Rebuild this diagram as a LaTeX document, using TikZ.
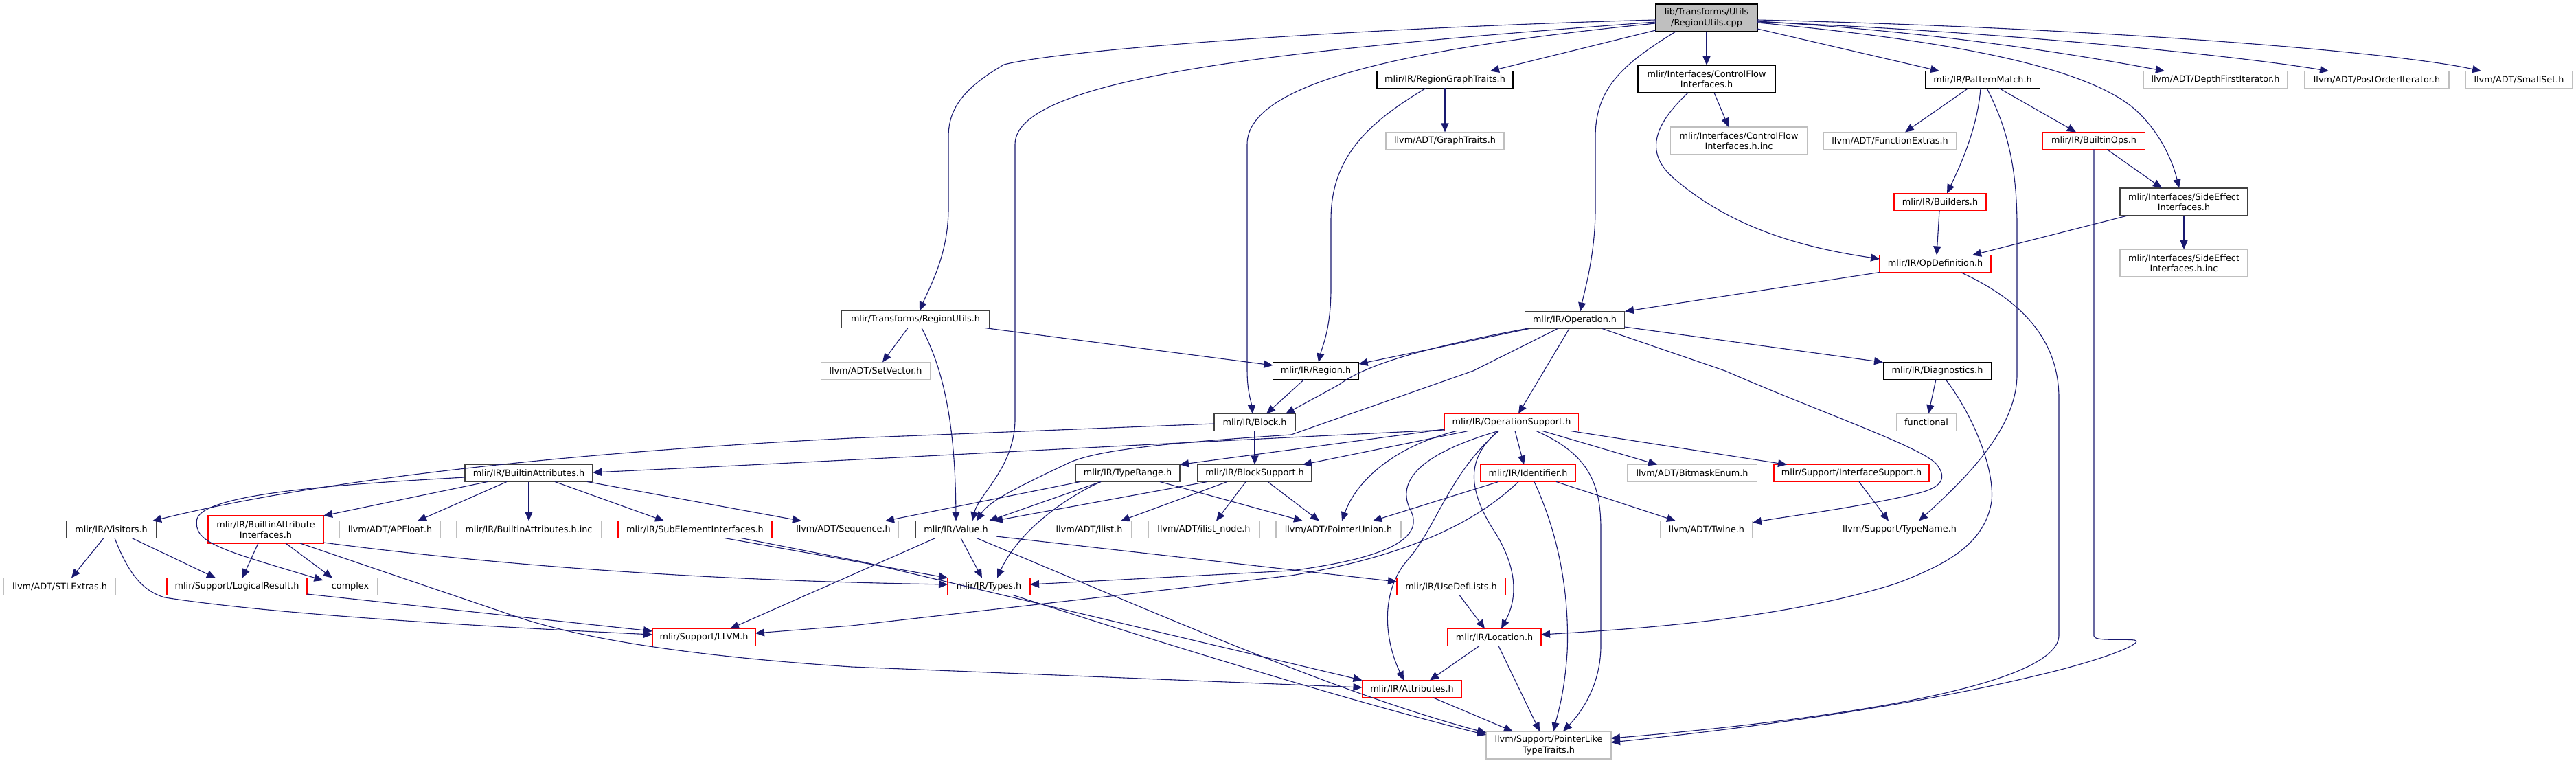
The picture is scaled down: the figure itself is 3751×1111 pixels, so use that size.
\documentclass[tikz,border=0pt]{standalone}
\usepackage{fontspec}
\setmainfont{DejaVu Sans}
\usetikzlibrary{arrows.meta,calc}
\definecolor{edgec}{HTML}{191970}
\definecolor{gryc}{HTML}{BFBFBF}
\definecolor{dkc}{HTML}{404040}
\tikzset{
  nd/.style={rectangle, inner sep=0pt, align=center, font=\fontsize{6.4pt}{7.7pt}\selectfont, minimum height=12.5pt, line width=0.6pt, fill=white},
  tl/.style={minimum height=20pt},
  bk/.style={nd, draw=black},
  dk/.style={nd, draw=dkc},
  gy/.style={nd, draw=gryc},
  rd/.style={nd, draw=red},
  ed/.style={draw=edgec, line width=0.55pt, -{Triangle[length=6.5pt,width=5.5pt]}},
}
\begin{document}
\begin{tikzpicture}[x=0.5pt,y=-0.5pt]
\useasboundingbox (0,0) rectangle (3751,1111);
% nodes
\node[bk, tl, fill=gryc, minimum width=74pt] (R) at (2485,26) {lib/Transforms/Utils\\/RegionUtils.cpp};
\node[dk, minimum width=107.5pt] (TRU) at (1333,465) {mlir/Transforms/RegionUtils.h};
\node[gy, minimum width=79.5pt] (SETV) at (1275,540) {llvm/ADT/SetVector.h};
\node[bk, minimum width=62.5pt] (REG) at (1916,540) {mlir/IR/Region.h};
\node[bk, minimum width=99pt] (RGT) at (2104,116) {mlir/IR/RegionGraphTraits.h};
\node[gy, minimum width=86pt] (GT) at (2104,205) {llvm/ADT/GraphTraits.h};
\node[bk, tl, minimum width=100pt] (CFI) at (2485,115) {mlir/Interfaces/ControlFlow\\Interfaces.h};
\node[gy, tl, minimum width=99.5pt] (CFIinc) at (2532,205) {mlir/Interfaces/ControlFlow\\Interfaces.h.inc};
\node[dk, minimum width=72.5pt] (OP) at (2293,466) {mlir/IR/Operation.h};
\node[bk, minimum width=83.5pt] (PM) at (2887,116) {mlir/IR/PatternMatch.h};
\node[gy, minimum width=96.5pt] (FE) at (2752,205) {llvm/ADT/FunctionExtras.h};
\node[rd, minimum width=74.5pt] (BOPS) at (3049,205) {mlir/IR/BuiltinOps.h};
\node[rd, minimum width=67pt] (BLD) at (2825,294) {mlir/IR/Builders.h};
\node[rd, minimum width=81pt] (OPDEF) at (2818,384) {mlir/IR/OpDefinition.h};
\node[dk, tl, minimum width=93pt] (SEI) at (3180,294) {mlir/Interfaces/SideEffect\\Interfaces.h};
\node[gy, tl, minimum width=93pt] (SEIinc) at (3180,383) {mlir/Interfaces/SideEffect\\Interfaces.h.inc};
\node[bk, minimum width=78.5pt] (DIAG) at (2821,540) {mlir/IR/Diagnostics.h};
\node[gy, minimum width=105pt] (DFI) at (3226,116) {llvm/ADT/DepthFirstIterator.h};
\node[gy, minimum width=105pt] (POI) at (3461,116) {llvm/ADT/PostOrderIterator.h};
\node[gy, minimum width=78pt] (SSET) at (3668,116) {llvm/ADT/SmallSet.h};
\node[dk, minimum width=65.5pt] (VIS) at (162,771) {mlir/IR/Visitors.h};
\node[rd, tl, minimum width=84pt] (BAI) at (387,771) {mlir/IR/BuiltinAttribute\\Interfaces.h};
\node[gy, minimum width=73.5pt] (APF) at (568,771) {llvm/ADT/APFloat.h};
\node[gy, minimum width=81.5pt] (STLE) at (87,854) {llvm/ADT/STLExtras.h};
\node[rd, minimum width=102pt] (LR) at (345,854) {mlir/Support/LogicalResult.h};
\node[gy, minimum width=39.5pt] (CPLX) at (510,854) {complex};
\node[dk, minimum width=93pt] (BA) at (770,689) {mlir/IR/BuiltinAttributes.h};
\node[gy, minimum width=105.5pt] (BAinc) at (770,771) {mlir/IR/BuiltinAttributes.h.inc};
\node[rd, minimum width=112pt] (SEL) at (1012,771) {mlir/IR/SubElementInterfaces.h};
\node[gy, minimum width=80.5pt] (SEQ) at (1228,771) {llvm/ADT/Sequence.h};
\node[rd, minimum width=75pt] (LLVM) at (1025,928) {mlir/Support/LLVM.h};
\node[dk, minimum width=59pt] (BLK) at (1827,615) {mlir/IR/Block.h};
\node[dk, minimum width=76pt] (TR) at (1642,689) {mlir/IR/TypeRange.h};
\node[dk, minimum width=83pt] (BS) at (1827,689) {mlir/IR/BlockSupport.h};
\node[dk, minimum width=58.5pt] (VAL) at (1392,771) {mlir/IR/Value.h};
\node[gy, minimum width=61.5pt] (IL) at (1586,771) {llvm/ADT/ilist.h};
\node[gy, minimum width=81pt] (ILN) at (1753,771) {llvm/ADT/ilist\_node.h};
\node[gy, minimum width=91pt] (PU) at (1949,771) {llvm/ADT/PointerUnion.h};
\node[rd, minimum width=60pt] (TYP) at (1440,854) {mlir/IR/Types.h};
\node[rd, minimum width=97.5pt] (OPS) at (2201,615) {mlir/IR/OperationSupport.h};
\node[rd, minimum width=69.5pt] (IDN) at (2225,689) {mlir/IR/Identifier.h};
\node[gy, minimum width=94.5pt] (BME) at (2464,689) {llvm/ADT/BitmaskEnum.h};
\node[gy, minimum width=67pt] (TW) at (2485,771) {llvm/ADT/Twine.h};
\node[rd, minimum width=79pt] (UDL) at (2113,854) {mlir/IR/UseDefLists.h};
\node[rd, minimum width=68pt] (LOC) at (2176,928) {mlir/IR/Location.h};
\node[rd, minimum width=72.5pt] (ATTR) at (2056,1003) {mlir/IR/Attributes.h};
\node[gy, tl, minimum width=91pt] (PLT) at (2255,1085) {llvm/Support/PointerLike\\TypeTraits.h};
\node[gy, minimum width=43.5pt] (FUNC) at (2805,615) {functional};
\node[rd, minimum width=113pt] (IFS) at (2696,689) {mlir/Support/InterfaceSupport.h};
\node[gy, minimum width=95.5pt] (TN) at (2766,771) {llvm/Support/TypeName.h};
% edges from root
\draw[ed] ($(R)+(-74,3)$) .. controls (2000,40) and (1560,70) .. (1462,94) .. controls (1400,130) and (1381,160) .. (1381,200) -- (1381,303) .. controls (1381,370) and (1355,415) .. ($(TRU)+(6,-12.5)$);
\draw[ed] ($(R)+(-74,6)$) .. controls (1900,70) and (1478,110) .. (1478,210) -- (1478,610) .. controls (1478,680) and (1425,720) .. ($(VAL)+(24,-12.5)$);
\draw[ed] ($(R)+(-74,8)$) .. controls (2050,70) and (1816,120) .. (1816,210) -- (1816,540) .. controls (1816,570) and (1822,585) .. ($(BLK)+(-3,-12.5)$);
\draw[ed] ($(R)+(-74,18)$) -- ($(RGT)+(66,-12.5)$);
\draw[ed] ($(R)+(-45,20)$) .. controls (2360,95) and (2323,130) .. (2323,200) -- (2323,303) .. controls (2323,370) and (2308,420) .. ($(OP)+(8,-12.5)$);
\draw[ed] ($(R)+(0,20)$) -- ($(CFI)+(0,-20)$);
\draw[ed] ($(R)+(74,16)$) -- ($(PM)+(-63,-12.5)$);
\draw[ed] ($(R)+(74,7)$) .. controls (2850,60) and (3050,100) .. (3115,165) .. controls (3150,200) and (3165,240) .. ($(SEI)+(-7,-20)$);
\draw[ed] ($(R)+(74,5)$) .. controls (2800,45) and (3000,75) .. ($(DFI)+(-74,-12.5)$);
\draw[ed] ($(R)+(74,6)$) .. controls (2900,45) and (3250,80) .. ($(POI)+(-70,-12.5)$);
\draw[ed] ($(R)+(74,3)$) .. controls (3100,42) and (3500,78) .. ($(SSET)+(-55,-12.5)$);
% RegionGraphTraits
\draw[ed] ($(RGT)+(0,12.5)$) -- ($(GT)+(0,-12.5)$);
\draw[ed] ($(RGT)+(-28,12.5)$) .. controls (1990,180) and (1938,230) .. (1938,320) -- (1938,420) .. controls (1938,480) and (1925,505) .. ($(REG)+(4,-12.5)$);
% ControlFlowInterfaces
\draw[ed] ($(CFI)+(11,20)$) -- ($(CFIinc)+(-15,-20)$);
\draw[ed] ($(CFI)+(-27,20)$) .. controls (2405,185) and (2395,225) .. (2440,262) .. controls (2520,330) and (2620,360) .. ($(OPDEF)+(-81,-7)$);
% PatternMatch
\draw[ed] ($(PM)+(-21,12.5)$) -- ($(FE)+(22,-12.5)$);
\draw[ed] ($(PM)+(-3,12.5)$) .. controls (2880,180) and (2860,230) .. ($(BLD)+(10,-12.5)$);
\draw[ed] ($(PM)+(24,12.5)$) -- ($(BOPS)+(-26,-12.5)$);
\draw[ed] ($(PM)+(6,12.5)$) .. controls (2925,190) and (2937,250) .. (2937,330) -- (2937,545) .. controls (2937,620) and (2870,690) .. ($(TN)+(28,-12.5)$);
% BuiltinOps
\draw[ed] ($(BOPS)+(19,12.5)$) -- ($(SEI)+(-32,-20)$);
\draw[ed] ($(BOPS)+(0,12.5)$) -- (3049,926) .. controls (3049,934) and (3090,930) .. (3108,932) .. controls (3125,936) and (3060,962) .. (2960,985) .. controls (2750,1035) and (2500,1065) .. ($(PLT)+(91,-4)$);
% OpDefinition
\draw[ed] ($(OPDEF)+(-81,12.5)$) -- ($(OP)+(73,-12.5)$);
\draw[ed] ($(OPDEF)+(37,12.5)$) .. controls (2950,440) and (2998,500) .. (2998,580) -- (2998,925) .. controls (2998,995) and (2700,1045) .. ($(PLT)+(91,-10)$);
% SideEffect
\draw[ed] ($(SEI)+(-82,20)$) -- ($(OPDEF)+(54,-12.5)$);
\draw[ed] ($(SEI)+(0,20)$) -- ($(SEIinc)+(0,-20)$);
\draw[ed] ($(BLD)+(-1,12.5)$) -- ($(OPDEF)+(2,-12.5)$);
% Operation
\draw[ed] ($(OP)+(-66,12.5)$) -- ($(REG)+(62.5,-10)$);
\draw[ed] ($(OP)+(-70,12.5)$) .. controls (2080,505) and (1990,530) .. (1950,560) -- ($(BLK)+(45,-12.5)$);
\draw[ed] ($(OP)+(-25,12.5)$) -- (2145,540) -- (1880,633) .. controls (1700,645) and (1590,655) .. (1550,677) .. controls (1480,710) and (1440,730) .. ($(VAL)+(30,-12.5)$);
\draw[ed] ($(OP)+(-8,12.5)$) -- ($(OPS)+(10,-12.5)$);
\draw[ed] ($(OP)+(72.5,10)$) -- ($(DIAG)+(-79,-12.5)$);
\draw[ed] ($(OP)+(40,12.5)$) -- (2512,540) .. controls (2650,600) and (2795,650) .. (2819,675) .. controls (2840,700) and (2820,712) .. (2790,719) .. controls (2700,740) and (2600,752) .. ($(TW)+(67,-10)$);
% Diagnostics
\draw[ed] ($(DIAG)+(-2,12.5)$) -- ($(FUNC)+(3,-12.5)$);
\draw[ed] ($(DIAG)+(12,12.5)$) .. controls (2870,600) and (2905,680) .. (2900,730) .. controls (2890,790) and (2840,820) .. (2760,850) .. controls (2600,900) and (2400,915) .. ($(LOC)+(68,-4)$);
% OperationSupport
\draw[ed] ($(OPS)+(-63,12.5)$) -- ($(BS)+(70,-12.5)$);
\draw[ed] ($(OPS)+(5,12.5)$) -- ($(IDN)+(-6,-12.5)$);
\draw[ed] ($(OPS)+(45,12.5)$) -- ($(BME)+(-51,-12.5)$);
\draw[ed] ($(OPS)+(86,12.5)$) -- ($(IFS)+(-94,-12.5)$);
\draw[ed] ($(OPS)+(-80,12.5)$) .. controls (2030,650) and (1975,700) .. ($(PU)+(5,-12.5)$);
\draw[ed] ($(OPS)+(36,12.5)$) .. controls (2310,660) and (2331,700) .. (2331,770) -- (2331,940) .. controls (2331,1000) and (2300,1040) .. ($(PLT)+(21,-20)$);
\draw[ed] ($(OPS)+(-19,12.5)$) .. controls (2130,670) and (2140,720) .. (2180,780) .. controls (2215,840) and (2205,880) .. ($(LOC)+(10,-12.5)$);
\draw[ed] ($(OPS)+(-19,12.5)$) .. controls (2110,690) and (2090,770) .. (2050,815) .. controls (2010,860) and (2015,930) .. ($(ATTR)+(-12,-12.5)$);
\draw[ed] ($(OPS)+(-19,12.5)$) .. controls (2070,660) and (2030,700) .. (2055,745) .. controls (2075,790) and (2000,815) .. (1880,831) -- ($(TYP)+(60,-3)$);
\draw[ed] ($(OPS)+(-97.5,10)$) -- ($(TR)+(76,-12.5)$);
\draw[ed] ($(OPS)+(-97.5,11)$) .. controls (1700,645) and (1250,670) .. ($(BA)+(93,-1)$);
% Block / Region
\draw[ed] ($(BLK)+(0,12.5)$) -- ($(BS)+(0,-12.5)$);
\draw[ed] ($(BLK)+(-59,2)$) -- (1240,638) .. controls (900,655) and (500,690) .. ($(VIS)+(60,-12.5)$);
\draw[ed] ($(REG)+(-17,12.5)$) -- ($(BLK)+(17,-12.5)$);
% Transforms/RegionUtils.h
\draw[ed] ($(TRU)+(-11,12.5)$) -- ($(SETV)+(10,-12.5)$);
\draw[ed] ($(TRU)+(101,12.5)$) -- ($(REG)+(-62.5,-8)$);
\draw[ed] ($(TRU)+(9,12.5)$) .. controls (1375,540) and (1391,620) .. ($(VAL)+(0,-12.5)$);
% TypeRange
\draw[ed] ($(TR)+(-69,12.5)$) -- ($(SEQ)+(61,-12.5)$);
\draw[ed] ($(TR)+(-39,12.5)$) -- ($(VAL)+(48,-12.5)$);
\draw[ed] ($(TR)+(-39,12.5)$) .. controls (1540,730) and (1480,780) .. ($(TYP)+(12,-12.5)$);
\draw[ed] ($(TR)+(47,12.5)$) -- ($(PU)+(-52,-12.5)$);
% BlockSupport
\draw[ed] ($(BS)+(-69,12.5)$) -- ($(VAL)+(55,-12.5)$);
\draw[ed] ($(BS)+(-40,12.5)$) -- ($(IL)+(46,-12.5)$);
\draw[ed] ($(BS)+(-13,12.5)$) -- ($(ILN)+(18,-12.5)$);
\draw[ed] ($(BS)+(19,12.5)$) -- ($(PU)+(-28,-12.5)$);
% Value
\draw[ed] ($(VAL)+(7,12.5)$) -- ($(TYP)+(-10,-12.5)$);
\draw[ed] ($(VAL)+(-30,12.5)$) -- ($(LLVM)+(38,-12.5)$);
\draw[ed] ($(VAL)+(30,12.5)$) .. controls (1700,900) and (1950,1010) .. ($(PLT)+(-91,-18)$);
\draw[ed] ($(VAL)+(58.5,10)$) -- ($(UDL)+(-79,-7)$);
\draw[ed] ($(TYP)+(35,12.5)$) .. controls (1750,955) and (2000,1030) .. ($(PLT)+(-91,-15)$);
% UseDefLists, Location, Attributes
\draw[ed] ($(UDL)+(12,12.5)$) -- ($(LOC)+(-14,-12.5)$);
\draw[ed] ($(LOC)+(-22,12.5)$) -- ($(ATTR)+(26,-12.5)$);
\draw[ed] ($(LOC)+(6,12.5)$) -- ($(PLT)+(-13,-20)$);
\draw[ed] ($(ATTR)+(30,12.5)$) -- ($(PLT)+(-52,-20)$);
% Identifier
\draw[ed] ($(IDN)+(-43,12.5)$) -- ($(PU)+(50,-12.5)$);
\draw[ed] ($(IDN)+(41,12.5)$) -- ($(TW)+(-45,-12.5)$);
\draw[ed] ($(IDN)+(9,12.5)$) .. controls (2275,790) and (2285,880) .. (2282,950) .. controls (2278,1010) and (2268,1040) .. ($(PLT)+(7,-20)$);
\draw[ed] ($(IDN)+(-14,12.5)$) .. controls (2150,760) and (2050,810) .. (1880,838) -- (1240,911) -- ($(LLVM)+(75,-6)$);
% BuiltinAttributes
\draw[ed] ($(BA)+(-60,12.5)$) -- ($(BAI)+(84,-20)$);
\draw[ed] ($(BA)+(-93,6)$) .. controls (500,705) and (300,718) .. (287,755) .. controls (280,790) and (320,800) .. ($(CPLX)+(-39.5,-9)$);
\draw[ed] ($(BA)+(-32,12.5)$) -- ($(APF)+(40,-12.5)$);
\draw[ed] ($(BA)+(0,12.5)$) -- ($(BAinc)+(0,-12.5)$);
\draw[ed] ($(BA)+(38,12.5)$) -- ($(SEL)+(-45,-12.5)$);
\draw[ed] ($(BA)+(85,12.5)$) -- ($(SEQ)+(-61,-12.5)$);
% BuiltinAttributeInterfaces
\draw[ed] ($(BAI)+(-11,20)$) -- ($(LR)+(8,-12.5)$);
\draw[ed] ($(BAI)+(29,20)$) -- ($(CPLX)+(-26,-12.5)$);
\draw[ed] ($(BAI)+(84,19)$) .. controls (700,820) and (1000,845) .. ($(TYP)+(-60,-3)$);
\draw[ed] ($(BAI)+(50,20)$) -- (755,899) .. controls (850,930) and (1000,955) .. (1240,971) -- ($(ATTR)+(-72.5,-2)$);
% SubElementInterfaces
\draw[ed] ($(SEL)+(43,12.5)$) -- ($(TYP)+(-60,-12.5)$);
\draw[ed] ($(SEL)+(67,12.5)$) -- (1260,819) -- ($(ATTR)+(-72.5,-12.5)$);
% Visitors
\draw[ed] ($(VIS)+(-11,12.5)$) -- ($(STLE)+(17,-12.5)$);
\draw[ed] ($(VIS)+(30,12.5)$) -- ($(LR)+(-31,-12.5)$);
\draw[ed] ($(VIS)+(5,12.5)$) .. controls (185,830) and (205,860) .. (240,870) .. controls (400,895) and (700,912) .. ($(LLVM)+(-75,-4)$);
\draw[ed] ($(LR)+(102,11)$) -- ($(LLVM)+(-75,-9)$);
\draw[ed] ($(IFS)+(11,12.5)$) -- ($(TN)+(-16,-12.5)$);
\end{tikzpicture}
\end{document}
